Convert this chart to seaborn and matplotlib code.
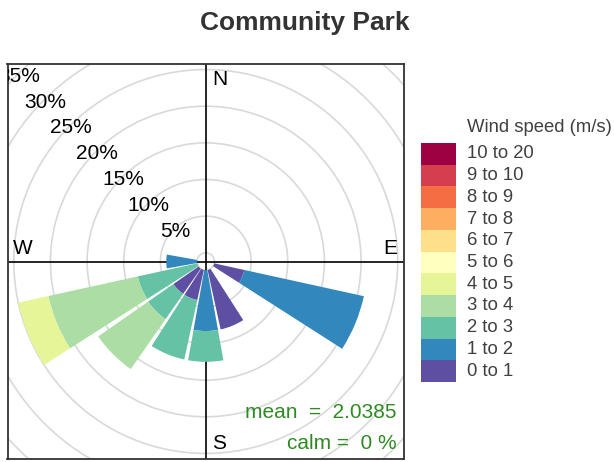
import numpy as np
import matplotlib
matplotlib.use("Agg")
import matplotlib.pyplot as plt
from matplotlib.patches import Wedge, Circle
import seaborn as sns

# 16 wind directions (bearing, degrees) and frequency (%) per speed bin
directions = [0, 22.5, 45, 67.5, 90, 112.5, 135, 157.5,
              180, 202.5, 225, 247.5, 270, 292.5, 315, 337.5]
speed_bins = ["0 to 1", "1 to 2", "2 to 3", "3 to 4", "4 to 5", "5 to 6",
              "6 to 7", "7 to 8", "8 to 9", "9 to 10", "10 to 20"]

#            N  NNE NE ENE E   ESE   SE  SSE  S    SSW  SW   WSW   W    WNW NW NNW
freq_0_1 = [0, 0, 0, 0, 0, 4.2, 0, 8.3, 0, 4.2, 4.2, 0, 0, 0, 0, 0]
freq_1_2 = [0, 0, 0, 0, 0, 16.7, 0, 0, 8.3, 0, 0, 0, 4.2, 0, 0, 0]
freq_2_3 = [0, 0, 0, 0, 0, 0, 0, 0, 4.2, 8.3, 4.2, 8.3, 0, 0, 0, 0]
freq_3_4 = [0, 0, 0, 0, 0, 0, 0, 0, 0, 0, 8.3, 12.5, 0, 0, 0, 0]
freq_4_5 = [0, 0, 0, 0, 0, 0, 0, 0, 0, 0, 0, 4.2, 0, 0, 0, 0]
freq_5_6 = [0] * 16
freq_6_7 = [0] * 16
freq_7_8 = [0] * 16
freq_8_9 = [0] * 16
freq_9_10 = [0] * 16
freq_10_20 = [0] * 16

ring_pcts = [5, 10, 15, 20, 25, 30, 35, 40]
label_pcts = [5, 10, 15, 20, 25, 30, 35]
mean_speed = "2.0385"
calm_pct = "0"

freqs = [freq_0_1, freq_1_2, freq_2_3, freq_3_4, freq_4_5, freq_5_6,
         freq_6_7, freq_7_8, freq_8_9, freq_9_10, freq_10_20]

sns.set_theme(style="white")
plt.rcParams["font.family"] = ["Liberation Sans", "DejaVu Sans"]

colors = sns.color_palette(["#5E4FA2", "#3288BD", "#66C2A5", "#ABDDA4", "#E6F598",
                            "#FFFFBF", "#FEE08B", "#FDAE61", "#F46D43", "#D53E4F",
                            "#9E0142"])

W, H = 614, 462
fig = plt.figure(figsize=(W / 100, H / 100), dpi=100)

# main rose panel
bx0, bx1, by0, by1 = 7.5, 404, 64, 459
ax = fig.add_axes([bx0 / W, (H - by1) / H, (bx1 - bx0) / W, (by1 - by0) / H])
k = 7.33        # px per percent
off = 8.7 / k   # centre offset
rx = (bx1 - bx0) / 2 / k
ry = (by1 - by0) / 2 / k
ax.set_xlim(-rx, rx)
ax.set_ylim(-ry, ry)
ax.set_xticks([])
ax.set_yticks([])
for sp in ax.spines.values():
    sp.set_color("#333333")
    sp.set_linewidth(1.3)

for p in [0] + ring_pcts:
    ax.add_patch(Circle((0, 0), off + p, fill=False, ec="#d9d9d9", lw=1.2, zorder=1))

ax.axhline(0, color="black", lw=1.2, zorder=1.5)
ax.axvline(0, color="black", lw=1.2, zorder=1.5)

half = 0.9 * 22.5 / 2
for i, b in enumerate(directions):
    cum = 0
    for j, f in enumerate(freqs):
        v = f[i]
        if v > 0:
            th = 90 - b
            ax.add_patch(Wedge((0, 0), off + cum + v, th - half, th + half,
                               width=v, facecolor=colors[j], lw=0, zorder=2))
        cum += v

# ring labels along the NW diagonal (outermost one is clipped by the frame)
s45 = np.sin(np.pi / 4)
for p in label_pcts:
    r = off + p
    ax.text(-r * s45 + 0.15, r * s45 - 0.3, f"{p}%", ha="center", va="center",
            fontsize=15, color="black", clip_on=True, zorder=3)

ax.text(0.85, ry - 0.8, "N", ha="left", va="top", fontsize=15, color="black")
ax.text(0.85, -ry + 0.8, "S", ha="left", va="bottom", fontsize=15, color="black")
ax.text(-rx + 0.75, 0.45, "W", ha="left", va="bottom", fontsize=15, color="black")
ax.text(rx - 0.9, 0.45, "E", ha="right", va="bottom", fontsize=15, color="black")

ax.text(0.982, 0.117, f"mean  =  {mean_speed}", transform=ax.transAxes,
        ha="right", va="center", fontsize=15, color="#2e8b22")
ax.text(0.982, 0.038, f"calm =  {calm_pct} %", transform=ax.transAxes,
        ha="right", va="center", fontsize=15, color="#2e8b22")

# legend key
lx0, lx1, ly0, ly1 = 421, 456, 143, 382
lax = fig.add_axes([lx0 / W, (H - ly1) / H, (lx1 - lx0) / W, (ly1 - ly0) / H])
lax.barh(range(len(speed_bins)), 1, height=1, color=colors, lw=0)
lax.set_xlim(0, 1)
lax.set_ylim(-0.5, len(speed_bins) - 0.5)
lax.axis("off")
lab_x = (467 - lx0) / (lx1 - lx0)
for j, lab in enumerate(speed_bins):
    lax.text(lab_x, j, lab, transform=lax.get_yaxis_transform(), ha="left",
             va="center", fontsize=13.3, color="#404040", clip_on=False)
fig.text(467 / W, 1 - 128 / H, "Wind speed (m/s)", ha="left", va="center",
         fontsize=13.3, color="#404040")

fig.text(305 / W, 1 - 23 / H, "Community Park", ha="center", va="center",
         fontsize=19, fontweight="bold", color="#333333")

fig.savefig("out.png", dpi=100)
